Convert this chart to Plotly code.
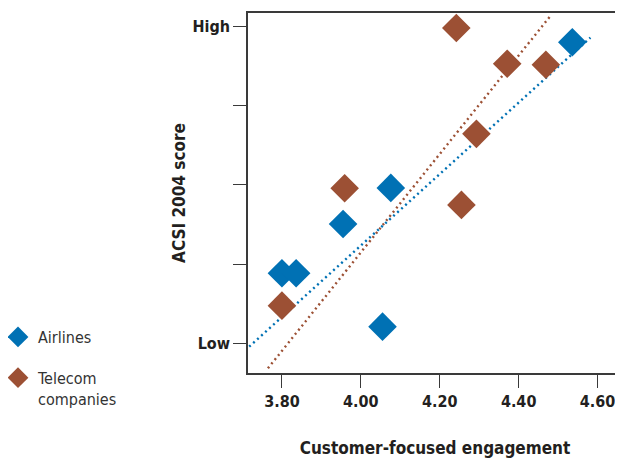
import plotly.graph_objects as go

# Data
airline_x = [3.80, 3.836, 3.955, 4.055, 4.076, 4.536]
airline_y = [0.884, 0.884, 1.507, 0.21, 1.962, 3.80]
telecom_x = [3.80, 3.959, 4.242, 4.255, 4.293, 4.371, 4.469]
telecom_y = [0.475, 1.958, 3.98, 1.747, 2.644, 3.529, 3.516]

# Trend line end points (data units)
airline_trend_x = [3.717, 4.582]
airline_trend_y = [-0.043, 3.86]
telecom_trend_x = [3.7645, 4.483]
telecom_trend_y = [-0.316, 4.148]

x_ticks = [3.8, 4.0, 4.2, 4.4, 4.6]
x_ticklabels = ["3.80", "4.00", "4.20", "4.40", "4.60"]
y_ticks = [0, 1, 2, 3, 4]
y_ticklabels = ["Low", "", "", "", "High"]

BLUE = "#0071b4"
BROWN = "#9c5034"
INK = "#231f20"
FONT = "DejaVu Sans Condensed, Roboto, sans-serif"

# page has an 8px body margin, so the figure is sized to fit the window
W, H = 615, 451
ML, MR, MT, MB = 240, 1, 5, 86
PW = W - ML - MR
PH = H - MT - MB

fig = go.Figure()
fig.add_trace(go.Scatter(x=airline_trend_x, y=airline_trend_y, mode="lines",
                         line=dict(color=BLUE, width=2.4, dash="2px,3.4px"),
                         showlegend=False, hoverinfo="skip"))
fig.add_trace(go.Scatter(x=telecom_trend_x, y=telecom_trend_y, mode="lines",
                         line=dict(color=BROWN, width=2.4, dash="2px,3.4px"),
                         showlegend=False, hoverinfo="skip"))
fig.add_trace(go.Scatter(x=airline_x, y=airline_y, mode="markers", name="Airlines",
                         legendgroup="a",
                         marker=dict(symbol="diamond", size=22, color=BLUE, line=dict(width=0))))
fig.add_trace(go.Scatter(x=telecom_x, y=telecom_y, mode="markers", name="Telecom<br>companies",
                         legendgroup="b",
                         marker=dict(symbol="diamond", size=22, color=BROWN, line=dict(width=0))))

fig.update_layout(
    width=W, height=H,
    margin=dict(l=ML, r=MR, t=MT, b=MB, autoexpand=False),
    paper_bgcolor="white", plot_bgcolor="white",
    font=dict(family=FONT, color=INK),
    legend=dict(xref="paper", yref="paper", x=(-10 - ML) / PW, y=(H - MB - 312) / PH,
                xanchor="left", yanchor="top", valign="top",
                traceorder="grouped", tracegroupgap=17,
                font=dict(family=FONT, size=16, color="#333333"),
                bgcolor="rgba(0,0,0,0)"),
    xaxis=dict(range=[3.714, 4.662], tickvals=x_ticks, ticktext=x_ticklabels,
               showgrid=False, zeroline=False, showline=True, mirror=True,
               linecolor="#3a3a3a", linewidth=1.5, automargin=False,
               ticks="outside", ticklen=13, tickwidth=1.2, tickcolor="#3a3a3a",
               tickfont=dict(family=FONT, size=16, color=INK, weight="bold"),
               title=dict(text="Customer-focused engagement", standoff=32,
                          font=dict(family=FONT, size=17, color=INK, weight="bold"))),
    yaxis=dict(range=[-0.375, 4.17], tickvals=y_ticks, ticktext=y_ticklabels,
               showgrid=False, zeroline=False, showline=True, mirror=True,
               linecolor="#3a3a3a", linewidth=1.5, automargin=False,
               ticks="outside", ticklen=13, tickwidth=1.2, tickcolor="#3a3a3a",
               tickfont=dict(family=FONT, size=16, color=INK, weight="bold"),
               title=dict(text="ACSI 2004 score", standoff=3,
                          font=dict(family=FONT, size=17, color=INK, weight="bold"))),
)

fig.write_html("out.html")
